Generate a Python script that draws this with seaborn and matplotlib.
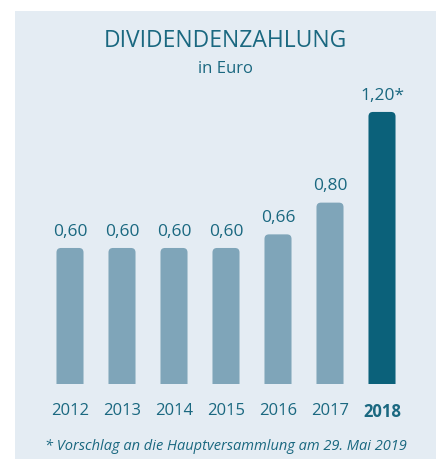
import matplotlib
matplotlib.use("Agg")
import matplotlib.pyplot as plt
import seaborn as sns
import pandas as pd
from matplotlib.patches import FancyBboxPatch, Rectangle

years = ["2012", "2013", "2014", "2015", "2016", "2017", "2018"]
values = [0.60, 0.60, 0.60, 0.60, 0.66, 0.80, 1.20]
labels = ["0,60", "0,60", "0,60", "0,60", "0,66", "0,80", "1,20*"]
title = "DIVIDENDENZAHLUNG"
subtitle = "in Euro"
footnote = "* Vorschlag an die Hauptversammlung am 29. Mai 2019"

LIGHT = "#7fa5b9"
DARK = "#0b617a"
TEXT = "#1a6880"
PANEL = "#e4ecf3"

sns.set_theme(style="white")
plt.rcParams["font.family"] = ["Open Sans", "DejaVu Sans"]

W, H = 444, 459
fig = plt.figure(figsize=(W / 100, H / 100), dpi=100)
fig.patch.set_facecolor("white")
fig.patches.append(Rectangle((15 / W, 0), 421 / W, (H - 11) / H,
                             transform=fig.transFigure, facecolor=PANEL,
                             edgecolor="none", zorder=-5))

ax = fig.add_axes([44 / W, 75 / H, 364 / W, (384 - 66.6) / H])
ax.set_facecolor("none")
ax.set_zorder(2)

df = pd.DataFrame({"year": years, "value": values})
sns.barplot(data=df, x="year", y="value", color=LIGHT, width=0.52,
            ax=ax, saturation=1, errorbar=None)

ax.set_xlim(-0.5, len(years) - 0.5)
ax.set_ylim(0, 1.4)

# rounded tops
xpu = 364 / 7
ypu = (384 - 66.6) / 1.4
r_px = 4.5
r_x = r_px / xpu
aspect = (r_px / ypu) / r_x
for i, p in enumerate(list(ax.patches)):
    x, w, h = p.get_x(), p.get_width(), p.get_height()
    fc = DARK if i == len(years) - 1 else LIGHT
    p.set_visible(False)
    fb = FancyBboxPatch((x, -0.05), w, h + 0.05,
                        boxstyle=f"round,pad=0,rounding_size={r_x}",
                        mutation_aspect=aspect, facecolor=fc,
                        edgecolor="none", zorder=2)
    ax.add_patch(fb)

ax.bar_label(ax.containers[0], labels=labels, padding=6, color=TEXT,
             fontsize=12.5)

ax.set_xlabel("")
ax.set_ylabel("")
ax.set_yticks([])
ax.tick_params(axis="x", length=0, pad=14, labelsize=12, labelcolor=TEXT)
for t in ax.get_xticklabels():
    if t.get_text() == "2018":
        t.set_fontweight("bold")
sns.despine(ax=ax, left=True, bottom=True)

fig.text(225.5 / W, 1 - 47 / H, title, ha="center", va="baseline",
         fontsize=16.5, color=TEXT)
fig.text(225.5 / W, 1 - 73 / H, subtitle, ha="center", va="baseline",
         fontsize=12, color=TEXT)
fig.text(226 / W, 1 - 450 / H, footnote, ha="center", va="baseline",
         fontsize=10.5, color=TEXT, style="italic")

fig.savefig("out.png", dpi=100, facecolor="white")
